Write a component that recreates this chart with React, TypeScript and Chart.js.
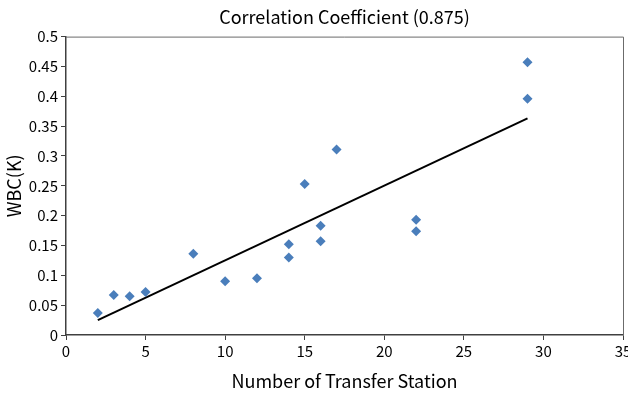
import React, { useEffect, useRef } from "react";
import { Chart, registerables } from "chart.js";

Chart.register(...registerables);

const stationCounts = [2, 3, 4, 5, 8, 10, 12, 14, 14, 15, 16, 16, 17, 22, 22, 29, 29];
const wbcValues = [0.037, 0.067, 0.065, 0.072, 0.136, 0.090, 0.095, 0.152, 0.130, 0.253, 0.183, 0.157, 0.311, 0.193, 0.174, 0.457, 0.396];
const trendX = [2, 29];
const trendY = [0.025, 0.363];
const xTicks = [0, 5, 10, 15, 20, 25, 30, 35];
const yTicks = [0, 0.05, 0.1, 0.15, 0.2, 0.25, 0.3, 0.35, 0.4, 0.45, 0.5];

const FONT = "'Noto Sans CJK KR', 'Noto Sans', sans-serif";

const frame = {
  id: "frame",
  afterDatasetsDraw(chart: any) {
    const { ctx, chartArea } = chart;
    ctx.save();
    ctx.strokeStyle = "#6b6b6b";
    ctx.lineWidth = 1;
    ctx.beginPath();
    ctx.moveTo(chartArea.left, chartArea.top + 0.5);
    ctx.lineTo(chartArea.right + 0.5, chartArea.top + 0.5);
    ctx.lineTo(chartArea.right + 0.5, chartArea.bottom);
    ctx.stroke();
    ctx.restore();
  },
};

export default function App() {
  const ref = useRef<HTMLCanvasElement>(null);
  useEffect(() => {
    document.body.style.margin = "0";
    const scatter = stationCounts.map((x, i) => ({ x, y: wbcValues[i] }));
    const trend = trendX.map((x, i) => ({ x, y: trendY[i] }));
    const chart = new Chart(ref.current!, {
      type: "scatter",
      data: {
        datasets: [
          {
            label: "WBC",
            data: scatter,
            pointStyle: "rectRot",
            pointRadius: 5,
            backgroundColor: "#4A7EBB",
            borderColor: "#4A7EBB",
            borderWidth: 0,
          },
          {
            label: "Trend",
            data: trend,
            showLine: true,
            pointRadius: 0,
            borderColor: "#000000",
            borderWidth: 2,
          } as any,
        ],
      },
      plugins: [frame],
      options: {
        animation: false,
        responsive: false,
        layout: { padding: 0 },
        plugins: {
          legend: { display: false },
          tooltip: { enabled: false },
          title: {
            display: true,
            text: "Correlation Coefficient (0.875)",
            fullSize: false,
            color: "#000",
            font: { family: FONT, size: 18, weight: "normal" },
            padding: { top: 6, bottom: 9 },
          },
        },
        scales: {
          x: {
            type: "linear",
            min: 0,
            max: 35,
            afterBuildTicks: (s: any) => {
              s.ticks = xTicks.map((v) => ({ value: v }));
            },
            afterFit: (s: any) => {
              s.height = 59;
              s.paddingLeft = 0;
              s.paddingRight = 0;
            },
            ticks: {
              color: "#000",
              font: { family: FONT, size: 15 },
              padding: 2,
              maxRotation: 0,
              autoSkip: false,
            },
            grid: { drawOnChartArea: false, drawTicks: true, tickLength: 5, color: "#404040" },
            border: { display: true, color: "#404040", width: 1.5 },
            title: {
              display: true,
              text: "Number of Transfer Station",
              color: "#000",
              font: { family: FONT, size: 18 },
              padding: { top: 0, bottom: 2 },
            },
          },
          y: {
            type: "linear",
            min: 0,
            max: 0.5,
            afterBuildTicks: (s: any) => {
              s.ticks = yTicks.map((v) => ({ value: v }));
            },
            afterFit: (s: any) => {
              s.width = 66;
              s.paddingTop = 0;
              s.paddingBottom = 0;
            },
            ticks: {
              color: "#000",
              font: { family: FONT, size: 15 },
              padding: 3,
              autoSkip: false,
              callback: (v: any) => String(Number(v)),
            },
            grid: { drawOnChartArea: false, drawTicks: true, tickLength: 5, color: "#404040" },
            border: { display: true, color: "#404040", width: 1.5 },
            title: {
              display: true,
              text: "WBC(K)",
              color: "#000",
              font: { family: FONT, size: 18 },
              padding: { top: 3, bottom: 0 },
            },
          },
        },
      },
    });
    return () => chart.destroy();
  }, []);
  return <canvas ref={ref} width={628} height={394} style={{ display: "block" }} />;
}
